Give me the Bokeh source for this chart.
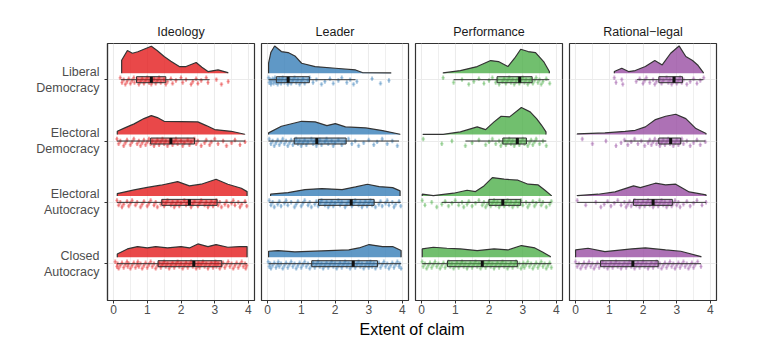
from bokeh.plotting import figure
from bokeh.models import Range1d, FixedTicker, Grid
from bokeh.layouts import row, column
from bokeh.embed import file_html
from bokeh.resources import INLINE
from bokeh.core.properties import value

# ---------------- data ----------------
regimes = ["Closed Autocracy", "Electoral Autocracy", "Electoral Democracy", "Liberal Democracy"]
regime_labels = ["Closed\nAutocracy", "Electoral\nAutocracy", "Electoral\nDemocracy", "Liberal\nDemocracy"]
claims = ["Ideology", "Leader", "Performance", "Rational\u2212legal"]
colors = ["#E41A1C", "#377EB8", "#4DAF4A", "#984EA3"]
x_ticks = [0, 1, 2, 3, 4]

# density curves (x grid, relative density) per claim, order: CA, EA, ED, LD
ideology_dens_x = [
    [0.11, 0.41, 0.71, 1.0, 1.25, 1.6, 2.0, 2.25, 2.5, 2.8, 3.04, 3.39, 3.74, 3.96],
    [0.11, 0.61, 1.0, 1.4, 1.9, 2.25, 2.6, 3.04, 3.39, 3.79, 3.96],
    [0.11, 0.35, 0.61, 0.9, 1.12, 1.3, 1.5, 2.0, 2.5, 2.75, 3.0, 3.49, 3.89],
    [0.24, 0.41, 0.56, 0.72, 0.9, 1.12, 1.3, 1.5, 1.7, 1.95, 2.15, 2.45, 2.62, 2.8, 3.1, 3.39],
]
ideology_dens_y = [
    [3.3, 8.3, 10.7, 9.3, 10.7, 9.3, 10.7, 9.3, 13.3, 10.7, 12.7, 10, 10.7, 10.7],
    [2.3, 6, 8.5, 10.7, 14.3, 10, 11.7, 16.7, 11.7, 7.7, 4.3],
    [3.3, 7, 10.7, 16, 19, 17, 13.3, 13, 12.7, 9, 5, 3.3, 0.3],
    [13, 22.7, 20, 21.5, 24, 27, 22.5, 16.7, 12, 6.7, 6.7, 10.7, 6, 1.7, 3.3, 0.7],
]
leader_dens_x = [
    [0.03, 0.31, 0.81, 1.61, 2.41, 2.71, 3.01, 3.41, 3.71, 3.96],
    [0.09, 0.61, 1.11, 1.61, 2.21, 2.61, 2.96, 3.31, 3.71, 3.93],
    [0.03, 0.41, 1.01, 1.41, 1.76, 2.01, 2.31, 2.91, 3.41, 3.93],
    [0.03, 0.1, 0.21, 0.41, 0.61, 0.81, 1.01, 1.41, 2.01, 2.61, 2.81, 3.66],
]
leader_dens_y = [
    [6, 6.7, 5.3, 6.3, 7.3, 9.3, 12.7, 10.7, 10.7, 6.7],
    [1.7, 3.3, 6.3, 7.3, 6.3, 9, 11.7, 9.3, 8.3, 5],
    [1.7, 8.3, 13.3, 12.7, 9, 11, 7.7, 6.7, 4, 0.3],
    [10, 21, 27.3, 21.7, 20.7, 17.3, 10, 6.7, 5, 3.3, 0.7, 0.3],
]
performance_dens_x = [
    [0.02, 0.35, 0.75, 1.15, 1.65, 2.15, 2.56, 2.96, 3.36, 3.6, 3.82],
    [0.02, 0.35, 0.95, 1.35, 1.6, 1.85, 2.1, 2.45, 2.86, 3.16, 3.46, 3.66, 3.85],
    [0.04, 0.64, 1.15, 1.65, 1.9, 2.15, 2.36, 2.61, 2.96, 3.22, 3.41, 3.56, 3.69],
    [0.64, 1.15, 1.65, 2.05, 2.28, 2.56, 2.76, 2.94, 3.16, 3.38, 3.62, 3.79],
]
performance_dens_y = [
    [8.3, 10, 9, 8.3, 6.7, 8.3, 7.3, 11.7, 9.3, 5, 0.7],
    [1.7, 0.3, 2.7, 5.7, 4.3, 10, 18.3, 16.7, 15.7, 11.7, 11, 5.7, 0.3],
    [0.3, 0.3, 2.7, 7.7, 5, 12.7, 18.3, 17.7, 27, 22.7, 16, 9.3, 2.7],
    [0.3, 2.7, 6.7, 12.7, 11.7, 6.7, 15, 24, 21.7, 20.7, 11.7, 1.7],
]
rational_dens_x = [
    [0.0, 0.37, 0.87, 1.67, 2.07, 2.67, 3.12, 3.72],
    [0.05, 0.67, 1.17, 1.72, 1.92, 2.37, 2.67, 2.97, 3.37, 3.87],
    [0.05, 0.87, 1.47, 1.77, 2.07, 2.37, 2.67, 2.97, 3.27, 3.57, 3.87],
    [1.15, 1.37, 1.57, 1.77, 2.07, 2.35, 2.57, 2.82, 3.07, 3.27, 3.47, 3.62, 3.79],
]
rational_dens_y = [
    [7.3, 9, 5.7, 8.3, 9.3, 7.3, 6, 0.7],
    [0.3, 1.7, 4, 10, 8.3, 12.7, 11, 11.7, 4, 1],
    [0.7, 1.7, 3.3, 4.3, 7.7, 15, 18.3, 20.3, 16, 6, 1],
    [1.7, 5, 1.7, 2.7, 6.7, 12.7, 8.3, 20, 27.3, 16.7, 12.7, 8.3, 0.7],
]

# boxplot statistics [claim][regime]  (regime order CA, EA, ED, LD)
box_lower = [[0.1, 0.1, 0.1, 0.22], [0.03, 0.05, 0.03, 0.03], [0.02, 0.6, 1.3, 0.95], [0.0, 0.05, 1.45, 1.82]]
box_q1 = [[1.32, 1.43, 1.1, 0.68], [1.31, 1.51, 0.79, 0.26], [0.77, 2.0, 2.41, 2.24], [0.74, 1.72, 2.47, 2.47]]
box_median = [[2.38, 2.25, 1.7, 1.12], [2.54, 2.48, 1.46, 0.61], [1.8, 2.41, 2.84, 2.91], [1.7, 2.3, 2.82, 2.92]]
box_q3 = [[3.21, 3.07, 2.4, 1.55], [3.26, 3.16, 2.33, 1.24], [2.84, 2.94, 3.11, 3.28], [2.45, 2.87, 3.12, 3.17]]
box_upper = [[3.96, 3.95, 3.9, 2.85], [3.96, 3.95, 3.9, 2.61], [3.85, 3.85, 3.7, 3.79], [3.72, 3.87, 3.85, 3.79]]

# observed values (rug) per claim, order CA, EA, ED, LD
ideology_obs = [
    [0.05, 0.1, 0.12, 0.15, 0.2, 0.25, 0.3, 0.35, 0.4, 0.42, 0.45, 0.5, 0.55, 0.6, 0.65, 0.7, 0.72, 0.75, 0.8, 0.85,
     0.9, 0.95, 1.0, 1.05, 1.1, 1.15, 1.2, 1.25, 1.3, 1.35, 1.4, 1.45, 1.5, 1.55, 1.6, 1.65, 1.7, 1.75, 1.8, 1.85,
     1.9, 1.95, 2.0, 2.05, 2.1, 2.15, 2.2, 2.25, 2.3, 2.35, 2.4, 2.45, 2.5, 2.52, 2.55, 2.6, 2.65, 2.7, 2.75, 2.8,
     2.85, 2.9, 2.95, 3.0, 3.02, 3.05, 3.1, 3.15, 3.2, 3.25, 3.3, 3.35, 3.4, 3.45, 3.5, 3.55, 3.6, 3.65, 3.7, 3.75,
     3.8, 3.85, 3.9, 3.92, 3.95],
    [0.1, 0.15, 0.2, 0.25, 0.3, 0.4, 0.45, 0.5, 0.55, 0.65, 0.7, 0.8, 0.85, 0.9, 1.0, 1.05, 1.1, 1.2, 1.25, 1.3,
     1.4, 1.45, 1.5, 1.55, 1.6, 1.7, 1.75, 1.8, 1.85, 1.9, 1.95, 2.0, 2.1, 2.15, 2.2, 2.3, 2.35, 2.4, 2.5, 2.55,
     2.6, 2.7, 2.75, 2.8, 2.85, 2.9, 2.95, 3.0, 3.05, 3.1, 3.15, 3.2, 3.3, 3.35, 3.4, 3.5, 3.55, 3.6, 3.7, 3.75,
     3.8, 3.9, 3.95],
    [0.1, 0.15, 0.2, 0.3, 0.35, 0.4, 0.5, 0.55, 0.6, 0.7, 0.75, 0.8, 0.85, 0.9, 0.95, 1.0, 1.05, 1.1, 1.15, 1.2,
     1.25, 1.3, 1.35, 1.4, 1.45, 1.5, 1.55, 1.6, 1.65, 1.7, 1.75, 1.8, 1.85, 1.9, 2.0, 2.05, 2.1, 2.2, 2.25, 2.3,
     2.4, 2.45, 2.5, 2.6, 2.7, 2.75, 2.85, 2.9, 3.0, 3.1, 3.25, 3.35, 3.5, 3.6, 3.75, 3.9],
    [0.2, 0.25, 0.3, 0.35, 0.4, 0.45, 0.5, 0.55, 0.6, 0.62, 0.7, 0.75, 0.8, 0.85, 0.9, 0.95, 1.0, 1.05, 1.1, 1.12,
     1.15, 1.2, 1.25, 1.3, 1.35, 1.4, 1.5, 1.55, 1.6, 1.7, 1.75, 1.85, 2.0, 2.05, 2.15, 2.3, 2.35, 2.45, 2.5, 2.6,
     2.75, 2.8, 3.05, 3.2, 3.4],
]
leader_obs = [
    [0.02, 0.05, 0.08, 0.1, 0.15, 0.2, 0.25, 0.3, 0.32, 0.35, 0.4, 0.45, 0.5, 0.55, 0.6, 0.65, 0.7, 0.75, 0.8, 0.85,
     0.9, 0.95, 1.0, 1.05, 1.1, 1.15, 1.2, 1.25, 1.3, 1.35, 1.4, 1.45, 1.5, 1.55, 1.6, 1.65, 1.7, 1.75, 1.8, 1.85,
     1.9, 1.95, 2.0, 2.05, 2.1, 2.15, 2.2, 2.25, 2.3, 2.35, 2.4, 2.45, 2.5, 2.55, 2.6, 2.65, 2.7, 2.75, 2.8, 2.85,
     2.9, 2.95, 3.0, 3.02, 3.05, 3.1, 3.15, 3.2, 3.25, 3.3, 3.35, 3.4, 3.45, 3.5, 3.55, 3.6, 3.65, 3.7, 3.75, 3.8,
     3.85, 3.9, 3.92, 3.96],
    [0.05, 0.1, 0.15, 0.2, 0.3, 0.35, 0.4, 0.5, 0.55, 0.6, 0.7, 0.8, 0.85, 0.9, 1.0, 1.05, 1.1, 1.2, 1.25, 1.3,
     1.4, 1.45, 1.5, 1.55, 1.6, 1.7, 1.75, 1.8, 1.85, 1.9, 1.95, 2.0, 2.1, 2.15, 2.2, 2.3, 2.35, 2.4, 2.5, 2.55,
     2.6, 2.7, 2.75, 2.8, 2.85, 2.9, 2.95, 3.0, 3.05, 3.1, 3.15, 3.2, 3.3, 3.35, 3.4, 3.5, 3.55, 3.6, 3.7, 3.75,
     3.8, 3.9, 3.95],
    [0.05, 0.1, 0.15, 0.2, 0.25, 0.3, 0.35, 0.4, 0.45, 0.5, 0.55, 0.6, 0.65, 0.7, 0.75, 0.8, 0.85, 0.9, 0.95, 1.0,
     1.05, 1.1, 1.15, 1.2, 1.3, 1.35, 1.4, 1.45, 1.5, 1.55, 1.6, 1.7, 1.75, 1.8, 1.9, 1.95, 2.0, 2.1, 2.2, 2.3,
     2.4, 2.5, 2.6, 2.7, 2.85, 3.0, 3.15, 3.25, 3.4, 3.55, 3.7, 3.85],
    [0.03, 0.05, 0.08, 0.1, 0.12, 0.15, 0.18, 0.2, 0.22, 0.25, 0.28, 0.3, 0.33, 0.35, 0.4, 0.42, 0.45, 0.5, 0.55,
     0.6, 0.62, 0.65, 0.7, 0.75, 0.8, 0.85, 0.9, 0.95, 1.0, 1.05, 1.1, 1.2, 1.25, 1.35, 1.45, 1.6, 1.7, 1.85, 1.95,
     2.1, 2.2, 2.35, 2.45, 2.55, 2.65, 3.1, 3.35, 3.6],
]
performance_obs = [
    [0.02, 0.05, 0.1, 0.15, 0.2, 0.25, 0.3, 0.35, 0.4, 0.45, 0.5, 0.55, 0.6, 0.65, 0.7, 0.75, 0.8, 0.85, 0.9, 0.95,
     1.0, 1.05, 1.1, 1.15, 1.2, 1.25, 1.3, 1.35, 1.4, 1.45, 1.5, 1.55, 1.6, 1.65, 1.7, 1.75, 1.8, 1.85, 1.9, 1.95,
     2.0, 2.05, 2.1, 2.15, 2.2, 2.25, 2.3, 2.35, 2.4, 2.45, 2.5, 2.55, 2.6, 2.65, 2.7, 2.75, 2.8, 2.85, 2.9, 2.95,
     3.0, 3.02, 3.05, 3.1, 3.15, 3.2, 3.25, 3.3, 3.35, 3.4, 3.45, 3.5, 3.55, 3.6, 3.65, 3.7, 3.75, 3.8, 3.85],
    [0.02, 0.1, 0.3, 0.45, 0.6, 0.7, 0.8, 0.9, 1.0, 1.1, 1.2, 1.25, 1.35, 1.4, 1.5, 1.6, 1.7, 1.8, 1.85, 1.9,
     1.95, 2.0, 2.05, 2.1, 2.15, 2.2, 2.25, 2.3, 2.35, 2.4, 2.45, 2.5, 2.55, 2.6, 2.65, 2.7, 2.75, 2.8, 2.85, 2.9,
     2.95, 3.0, 3.1, 3.15, 3.2, 3.3, 3.35, 3.4, 3.5, 3.55, 3.6, 3.7, 3.8, 3.85],
    [0.05, 0.6, 0.9, 1.3, 1.5, 1.7, 1.9, 2.0, 2.1, 2.2, 2.3, 2.35, 2.4, 2.45, 2.5, 2.55, 2.6, 2.65, 2.7, 2.75,
     2.8, 2.85, 2.9, 2.95, 3.0, 3.05, 3.1, 3.15, 3.2, 3.25, 3.3, 3.35, 3.4, 3.5, 3.6, 3.7],
    [0.64, 0.95, 1.2, 1.4, 1.55, 1.7, 1.85, 2.0, 2.1, 2.2, 2.25, 2.3, 2.4, 2.45, 2.5, 2.55, 2.6, 2.65, 2.7, 2.75,
     2.8, 2.85, 2.9, 2.95, 3.0, 3.05, 3.1, 3.15, 3.2, 3.25, 3.3, 3.35, 3.4, 3.45, 3.5, 3.55, 3.6, 3.7, 3.8],
]
rational_obs = [
    [0.0, 0.05, 0.1, 0.15, 0.2, 0.25, 0.3, 0.35, 0.4, 0.45, 0.5, 0.55, 0.6, 0.65, 0.7, 0.75, 0.8, 0.85, 0.9, 0.95,
     1.0, 1.05, 1.1, 1.15, 1.2, 1.25, 1.3, 1.35, 1.4, 1.45, 1.5, 1.55, 1.6, 1.65, 1.7, 1.75, 1.8, 1.85, 1.9, 1.95,
     2.0, 2.05, 2.1, 2.15, 2.2, 2.25, 2.3, 2.35, 2.4, 2.45, 2.5, 2.55, 2.6, 2.65, 2.7, 2.75, 2.8, 2.85, 2.9, 2.95,
     3.0, 3.05, 3.1, 3.15, 3.2, 3.25, 3.3, 3.35, 3.4, 3.45, 3.5, 3.55, 3.62, 3.72],
    [0.05, 0.3, 0.6, 0.75, 0.85, 0.95, 1.05, 1.15, 1.25, 1.35, 1.45, 1.5, 1.55, 1.6, 1.65, 1.7, 1.75, 1.8, 1.85,
     1.9, 1.95, 2.0, 2.05, 2.1, 2.15, 2.2, 2.25, 2.3, 2.35, 2.4, 2.45, 2.5, 2.55, 2.6, 2.65, 2.7, 2.75, 2.8, 2.85,
     2.9, 2.95, 3.0, 3.05, 3.1, 3.2, 3.3, 3.4, 3.5, 3.6, 3.75, 3.87],
    [0.2, 0.5, 0.9, 1.2, 1.35, 1.45, 1.55, 1.65, 1.75, 1.85, 1.95, 2.05, 2.15, 2.2, 2.25, 2.3, 2.35, 2.4, 2.45,
     2.5, 2.55, 2.6, 2.65, 2.7, 2.75, 2.8, 2.85, 2.9, 2.95, 3.0, 3.05, 3.1, 3.15, 3.2, 3.3, 3.4, 3.5, 3.6, 3.7, 3.85],
    [1.15, 1.2, 1.37, 1.4, 1.8, 1.9, 2.0, 2.05, 2.1, 2.2, 2.3, 2.35, 2.4, 2.5, 2.55, 2.6, 2.7, 2.75, 2.8, 2.85,
     2.9, 2.95, 3.0, 3.05, 3.1, 3.15, 3.2, 3.3, 3.4, 3.5, 3.6, 3.7, 3.8],
]

dens_x = [ideology_dens_x, leader_dens_x, performance_dens_x, rational_dens_x]
dens_y = [ideology_dens_y, leader_dens_y, performance_dens_y, rational_dens_y]
obs = [ideology_obs, leader_obs, performance_obs, rational_obs]

# ---------------- styling / layout ----------------
FONT = "Liberation Sans"
PX = 1.0 / 61.3          # data units per pixel (vertical)
PXX = 4.36 / 147.0       # data units per pixel (horizontal)
BASE_OFF = 0.105         # slab baseline above row centre
BOX_H = 3.0 * PX
DARK = "#333333"
GRID = "#EBEBEB"
FRAME_W = 147

figs = []
for ci in range(4):
    left = 107 if ci == 0 else 3
    right = 44 if ci == 3 else 4
    p = figure(width=left + FRAME_W + right, height=318,
               x_range=Range1d(-0.18, 4.18), y_range=Range1d(0.40, 4.59),
               output_backend="svg", toolbar_location=None,
               min_border_left=left, min_border_right=right,
               min_border_top=43, min_border_bottom=18,
               title=claims[ci],
               y_axis_location="left" if ci == 0 else None)
    p.background_fill_color = "white"
    p.border_fill_color = "white"
    p.outline_line_color = DARK
    p.outline_line_width = 1.2
    p.title.align = "center"
    p.title.text_font = FONT
    p.title.text_font_size = "12.5px"
    p.title.text_font_style = "normal"
    p.title.text_color = "#1A1A1A"
    p.title.standoff = 10

    p.grid.visible = False
    p.add_layout(Grid(dimension=0, ticker=FixedTicker(ticks=x_ticks, minor_ticks=[0.5, 1.5, 2.5, 3.5]),
                      grid_line_color=GRID, grid_line_width=1.1,
                      minor_grid_line_color=GRID, minor_grid_line_width=0.8))
    p.add_layout(Grid(dimension=1, ticker=FixedTicker(ticks=[1, 2, 3, 4]),
                      grid_line_color=GRID, grid_line_width=1.1))

    xa = p.xaxis[0]
    xa.ticker = FixedTicker(ticks=x_ticks)
    xa.axis_line_color = DARK
    xa.axis_line_width = 1.2
    xa.major_tick_line_color = DARK
    xa.major_tick_out = 3
    xa.major_tick_in = 0
    xa.minor_tick_out = 0
    xa.minor_tick_in = 0
    xa.major_label_standoff = 1
    xa.major_label_text_font = FONT
    xa.major_label_text_font_size = "12px"
    xa.major_label_text_color = "#4D4D4D"

    if ci == 0:
        ya = p.yaxis[0]
        ya.ticker = FixedTicker(ticks=[1, 2, 3, 4])
        ya.major_label_overrides = {i + 1: regime_labels[i] for i in range(4)}
        ya.axis_line_color = DARK
        ya.axis_line_width = 1.2
        ya.major_tick_line_color = DARK
        ya.major_tick_out = 3
        ya.major_tick_in = 0
        ya.minor_tick_out = 0
        ya.minor_tick_in = 0
        ya.major_label_standoff = 5
        ya.major_label_text_font = FONT
        ya.major_label_text_font_size = "12.5px"
        ya.major_label_text_line_height = 1.15
        ya.major_label_text_color = "#4D4D4D"

    col = colors[ci]
    for ri in range(4):
        yc = ri + 1
        base = yc + BASE_OFF
        xs = dens_x[ci][ri]
        hs = dens_y[ci][ri]
        px_ = [xs[0]] + list(xs) + [xs[-1]]
        py_ = [base] + [base + h * PX for h in hs] + [base]
        p.patch(px_, py_, fill_color=col, fill_alpha=0.8, line_color=None)
        p.line(px_, py_, line_color=DARK, line_width=1.2)

        # rug of observations (jittered "+" marks)
        vals = obs[ci][ri]
        y0s, y1s, cs, hx0, hx1 = [], [], [], [], []
        for i in range(len(vals)):
            j = (((i * 5) % 8) - 3.5) * 0.95
            c = yc - (1.35 + j) * PX
            y0s.append(c - 2.2 * PX)
            y1s.append(c + 2.2 * PX)
            cs.append(c)
            hx0.append(vals[i] - 1.8 * PXX)
            hx1.append(vals[i] + 1.8 * PXX)
        p.segment(x0=vals, y0=y0s, x1=vals, y1=y1s, line_color=col, line_alpha=0.45, line_width=1.9)
        p.segment(x0=hx0, y0=cs, x1=hx1, y1=cs, line_color=col, line_alpha=0.3, line_width=1.5)

        # boxplot
        p.segment(x0=[box_lower[ci][ri]], y0=[yc], x1=[box_upper[ci][ri]], y1=[yc],
                  line_color=DARK, line_width=1)
        p.quad(left=[box_q1[ci][ri]], right=[box_q3[ci][ri]], bottom=[yc - BOX_H], top=[yc + BOX_H],
               fill_color=col, fill_alpha=0.5, line_color=DARK, line_width=1)
        p.segment(x0=[box_median[ci][ri]], y0=[yc - BOX_H], x1=[box_median[ci][ri]], y1=[yc + BOX_H],
                  line_color="#111111", line_width=3)
    figs.append(p)

pb = figure(width=760, height=35, x_range=Range1d(0, 760), y_range=Range1d(0, 35),
            output_backend="svg", toolbar_location=None, min_border=0,
            x_axis_location=None, y_axis_location=None)
pb.outline_line_color = None
pb.grid.visible = False
pb.text(x=[411.5], y=[24], text=["Extent of claim"], text_align="center", text_baseline="middle",
        text_font=value(FONT), text_font_size="16px", text_color="#000000")

layout = column(row(*figs, spacing=0), pb, spacing=0)
open("out.html", "w").write(file_html(layout, INLINE))
